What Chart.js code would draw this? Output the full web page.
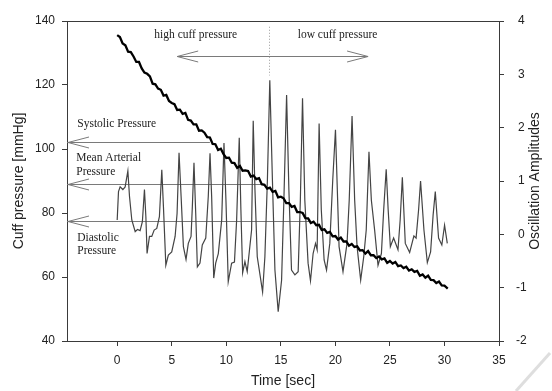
<!DOCTYPE html>
<html>
<head>
<meta charset="utf-8">
<script src="https://cdn.jsdelivr.net/npm/chart.js@4.4.1/dist/chart.umd.min.js"></script>
<style>
  html, body { margin: 0; padding: 0; background: #fff; }
  canvas { display: block; }
</style>
</head>
<body>
<canvas id="chart" width="552" height="391"></canvas>
<script>
// Tick values
const timeTicks = [0, 5, 10, 15, 20, 25, 30, 35];
const pressureTicks = [40, 60, 80, 100, 120, 140];
const amplitudeTicks = [-2, -1, 0, 1, 2, 3, 4];

// Cuff pressure [sec, mmHg] - noisy trace
const cuffPressure = [
  [0, 135.6], [0.25, 135.0], [0.5, 133.0], [0.75, 132.4], [1, 130.4], [1.25, 130.3],
  [1.5, 128.9], [1.75, 127.2], [2, 127.2], [2.25, 125.2], [2.5, 123.9], [2.75, 123.5],
  [3, 122.7], [3.25, 120.4], [3.5, 120.2], [3.75, 118.9], [4, 118.5], [4.25, 116.7],
  [4.5, 116.9], [4.75, 115.0], [5, 114.4], [5.25, 114.0], [5.5, 112.2], [5.75, 112.3],
  [6, 111.0], [6.25, 111.3], [6.5, 109.1], [6.75, 108.9], [7, 107.7], [7.25, 107.7],
  [7.5, 105.7], [7.75, 105.8], [8, 105.1], [8.25, 103.7], [8.5, 103.6], [8.75, 101.6],
  [9, 101.5], [9.25, 99.7], [9.5, 100.1], [9.75, 98.4], [10, 97.2], [10.25, 97.3],
  [10.5, 95.7], [10.75, 95.6], [11, 94.1], [11.25, 94.7], [11.5, 93.2], [11.75, 93.3],
  [12, 93.1], [12.25, 91.4], [12.5, 91.7], [12.75, 90.6], [13, 90.9], [13.25, 89.0],
  [13.5, 88.8], [13.75, 87.6], [14, 87.9], [14.25, 86.6], [14.5, 86.9], [14.75, 84.9],
  [15, 85.1], [15.25, 84.6], [15.5, 83.1], [15.75, 83.1], [16, 81.9], [16.25, 82.2],
  [16.5, 80.3], [16.75, 80.3], [17, 80.0], [17.25, 78.4], [17.5, 78.3], [17.75, 76.9],
  [18, 77.3], [18.25, 76.2], [18.5, 76.3], [18.75, 74.7], [19, 74.9], [19.25, 73.8],
  [19.5, 74.1], [19.75, 72.7], [20, 72.8], [20.25, 71.7], [20.5, 72.3], [20.75, 71.1],
  [21, 71.1], [21.25, 69.8], [21.5, 70.3], [21.75, 69.4], [22, 69.6], [22.25, 68.3],
  [22.5, 68.4], [22.75, 67.3], [23, 68.1], [23.25, 66.8], [23.5, 66.8], [23.75, 65.9],
  [24, 66.4], [24.25, 65.5], [24.5, 65.8], [24.75, 64.4], [25, 65.0], [25.25, 64.2],
  [25.5, 64.7], [25.75, 63.4], [26, 63.6], [26.25, 62.8], [26.5, 63.2], [26.75, 62.0],
  [27, 62.4], [27.25, 61.6], [27.5, 61.9], [27.75, 60.4], [28, 60.8], [28.25, 59.8],
  [28.5, 60.4], [28.75, 59.1], [29, 59.0], [29.25, 58.1], [29.5, 58.6], [29.75, 57.4],
  [30, 57.3], [30.3, 56.4]
];

// Oscillation amplitudes [sec, amplitude]
const oscillation = [
  [0, 0.27], [0.12, 0.80], [0.27, 0.89], [0.52, 0.84], [0.73, 0.89], [0.98, 1.19],
  [1.13, 0.71], [1.34, 0.27], [1.65, 0.05], [1.86, 0.09], [2.10, 0.07], [2.31, 0.24],
  [2.50, 0.84], [2.63, 0.33], [2.74, -0.36], [2.96, -0.04], [3.17, -0.04], [3.39, 0.08],
  [3.63, 0.11], [3.87, 0.33], [4.09, 1.21], [4.24, 0.52], [4.46, -0.58], [4.69, -0.39],
  [5.00, -0.33], [5.31, -0.04], [5.49, 0.39], [5.67, 1.53], [5.86, 0.71], [6.07, -0.23],
  [6.31, -0.47], [6.52, -0.17], [6.77, -0.04], [6.89, 0.52], [7.04, 1.34], [7.20, 0.39],
  [7.35, -0.61], [7.59, -0.54], [7.80, -0.20], [8.12, -0.07], [8.35, 0.71], [8.51, 1.52],
  [8.66, 0.71], [8.85, -0.82], [9.03, -0.54], [9.27, -0.36], [9.58, 0.27], [9.79, 1.71],
  [9.97, 0.64], [10.18, -0.89], [10.49, -0.54], [10.75, -0.52], [10.95, 0.27], [11.19, 1.81],
  [11.34, 0.46], [11.50, -0.72], [11.71, -0.51], [11.92, -0.70], [12.32, 0.08], [12.47, 2.13],
  [12.63, 0.83], [12.84, -0.42], [13.33, -1.08], [13.54, -0.42], [13.77, 1.02], [13.99, 2.89],
  [14.23, 1.02], [14.46, -0.67], [14.76, -1.45], [15.07, -0.86], [15.28, 0.64], [15.53, 2.61],
  [15.74, 0.83], [15.98, -0.67], [16.29, -0.76], [16.59, -0.70], [16.79, 0.64], [16.99, 2.55],
  [17.20, 0.64], [17.50, -0.54], [17.72, -0.87], [17.96, -0.36], [18.18, -0.17], [18.33, -0.29],
  [18.51, 2.08], [18.71, 0.46], [18.97, -0.48], [19.19, -0.67], [19.49, -0.17], [19.76, 1.02],
  [20.01, 1.96], [20.34, -0.23], [20.70, -0.70], [21.07, -0.17], [21.27, 0.64], [21.53, 2.22],
  [21.77, 0.64], [21.99, -0.23], [22.32, -0.86], [22.60, -0.42], [22.83, 0.08], [23.08, 1.55],
  [23.30, 0.64], [23.60, 0.08], [23.91, -0.58], [24.22, -0.36], [24.43, 0.46], [24.66, 1.22],
  [24.84, 0.46], [25.04, -0.23], [25.34, -0.07], [25.74, -0.29], [25.94, 0.27], [26.14, 1.07],
  [26.41, -0.17], [26.81, -0.34], [27.20, -0.03], [27.40, -0.07], [27.63, 0.46], [27.81, 1.00],
  [28.12, 0.08], [28.43, -0.53], [28.73, -0.33], [28.96, 0.36], [29.16, 0.80], [29.46, -0.07],
  [29.76, -0.20], [30.01, 0.17], [30.26, -0.17]
];

// Reference levels: systolic, mean arterial, diastolic (mmHg) and where each arrow line ends (sec)
const refPressures = [102.3, 89.0, 77.6];
const refEndTimes = [8.5, 13.5, 17.6];

// Top "high / low cuff pressure" arrow (sec, mmHg)
const sweepArrow = { from: 5.5, to: 23.0, at: 129.1, split: 13.9 };

const notes = [
  { text: 'high cuff pressure', t: 7.2, p: 135.6, align: 'center' },
  { text: 'low cuff pressure', t: 20.2, p: 135.6, align: 'center' },
  { text: 'Systolic Pressure', t: -3.66, p: 107.8, align: 'left' },
  { text: 'Mean Arterial', t: -3.75, p: 97.2, align: 'left' },
  { text: 'Pressure', t: -3.75, p: 92.8, align: 'left' },
  { text: 'Diastolic', t: -3.66, p: 72.2, align: 'left' },
  { text: 'Pressure', t: -3.66, p: 68.1, align: 'left' }
];

const sansFont = "'Liberation Sans', Arial, sans-serif";
const serifFont = "'Liberation Serif', 'Times New Roman', serif";
const axisColor = '#3a3a3a';

function chevron(ctx, tipX, tipY, dir) {
  // open arrow head, dir = 1 points right, -1 points left
  ctx.beginPath();
  ctx.moveTo(tipX - dir * 21, tipY - 5.5);
  ctx.lineTo(tipX, tipY);
  ctx.lineTo(tipX - dir * 21, tipY + 5.5);
  ctx.stroke();
}

const notesPlugin = {
  id: 'notes',
  beforeDatasetsDraw(chart) {
    const { ctx, chartArea: a, scales: { x, y } } = chart;
    ctx.save();
    ctx.strokeStyle = '#7a7a7a';
    ctx.lineWidth = 1;

    // pressure reference arrows
    refPressures.forEach((p, i) => {
      const py = Math.round(y.getPixelForValue(p)) + 0.5;
      ctx.beginPath();
      ctx.moveTo(a.left, py);
      ctx.lineTo(x.getPixelForValue(refEndTimes[i]), py);
      ctx.stroke();
      chevron(ctx, a.left + 1, py, -1);
    });

    // sweep arrow
    const sy = Math.round(y.getPixelForValue(sweepArrow.at)) + 0.5;
    const sx1 = x.getPixelForValue(sweepArrow.from);
    const sx2 = x.getPixelForValue(sweepArrow.to);
    ctx.beginPath();
    ctx.moveTo(sx1, sy);
    ctx.lineTo(sx2, sy);
    ctx.stroke();
    chevron(ctx, sx1, sy, -1);
    chevron(ctx, sx2, sy, 1);

    const dx = Math.round(x.getPixelForValue(sweepArrow.split)) + 0.5;
    ctx.setLineDash([1, 2]);
    ctx.strokeStyle = '#9a9a9a';
    ctx.beginPath();
    ctx.moveTo(dx, y.getPixelForValue(138.2));
    ctx.lineTo(dx, y.getPixelForValue(123.0));
    ctx.stroke();
    ctx.setLineDash([]);

    // text notes
    ctx.fillStyle = '#222';
    ctx.font = '11.5px ' + serifFont;
    ctx.textBaseline = 'middle';
    notes.forEach(n => {
      ctx.textAlign = n.align;
      ctx.fillText(n.text, x.getPixelForValue(n.t), y.getPixelForValue(n.p));
    });
    ctx.restore();
  },
  afterDraw(chart) {
    const { ctx, chartArea: a, width, height } = chart;
    ctx.save();
    // top frame line
    ctx.strokeStyle = axisColor;
    ctx.lineWidth = 1;
    ctx.beginPath();
    ctx.moveTo(a.left, a.top + 0.5);
    ctx.lineTo(a.right, a.top + 0.5);
    ctx.stroke();

    // faint scan mark in the bottom right corner
    ctx.strokeStyle = 'rgba(200, 200, 200, 0.6)';
    ctx.lineWidth = 3;
    ctx.beginPath();
    ctx.moveTo(width - 2, height - 38);
    ctx.lineTo(width - 36, height);
    ctx.stroke();

    // right axis title, reading bottom to top
    ctx.fillStyle = '#222';
    ctx.font = '14px ' + sansFont;
    ctx.textAlign = 'center';
    ctx.textBaseline = 'middle';
    ctx.translate(535, (a.top + a.bottom) / 2);
    ctx.rotate(-Math.PI / 2);
    ctx.fillText('Oscillation Amplitudes', 0, 0);
    ctx.restore();
  }
};

function fixedTicks(values) {
  return scale => { scale.ticks = values.map(v => ({ value: v })); };
}

const tickFont = { family: sansFont, size: 12 };
const gridOpts = { drawOnChartArea: false, drawTicks: true, tickLength: 5, color: axisColor };

new Chart(document.getElementById('chart'), {
  type: 'line',
  data: {
    datasets: [{
      label: 'Cuff pressure',
      data: cuffPressure.map(d => ({ x: d[0], y: d[1] })),
      yAxisID: 'y',
      borderColor: '#000',
      borderWidth: 2.3,
      pointRadius: 0,
      tension: 0
    }, {
      label: 'Oscillation',
      data: oscillation.map(d => ({ x: d[0], y: d[1] })),
      yAxisID: 'y1',
      borderColor: '#444',
      borderWidth: 1.2,
      pointRadius: 0,
      tension: 0
    }]
  },
  options: {
    responsive: false,
    animation: false,
    layout: { padding: { top: 21, left: 0, right: 0, bottom: 0 } },
    plugins: {
      legend: { display: false },
      tooltip: { enabled: false }
    },
    scales: {
      x: {
        type: 'linear',
        min: -4.6,
        max: 35,
        afterBuildTicks: fixedTicks(timeTicks),
        afterFit: s => { s.height = 50; },
        grid: gridOpts,
        border: { color: axisColor, width: 1 },
        ticks: { color: '#222', font: tickFont, padding: 7, maxRotation: 0 },
        title: {
          display: true, text: 'Time [sec]', color: '#222',
          font: { family: sansFont, size: 14 }, padding: { top: 0, bottom: 1 }
        }
      },
      y: {
        position: 'left',
        min: 40,
        max: 140,
        afterBuildTicks: fixedTicks(pressureTicks),
        afterFit: s => { s.width = 67; },
        grid: gridOpts,
        border: { color: axisColor, width: 1 },
        ticks: { color: '#222', font: tickFont, padding: 7 },
        title: {
          display: true, text: 'Cuff pressure [mmHg]', color: '#222',
          font: { family: sansFont, size: 14 }, padding: { top: 10.5, bottom: 0 }
        }
      },
      y1: {
        position: 'right',
        min: -2,
        max: 4,
        afterBuildTicks: fixedTicks(amplitudeTicks),
        afterFit: s => { s.width = 53; },
        grid: gridOpts,
        border: { color: axisColor, width: 1 },
        ticks: { color: '#222', font: tickFont, padding: 12, crossAlign: 'center' }
      }
    }
  },
  plugins: [notesPlugin]
});
</script>
</body>
</html>
